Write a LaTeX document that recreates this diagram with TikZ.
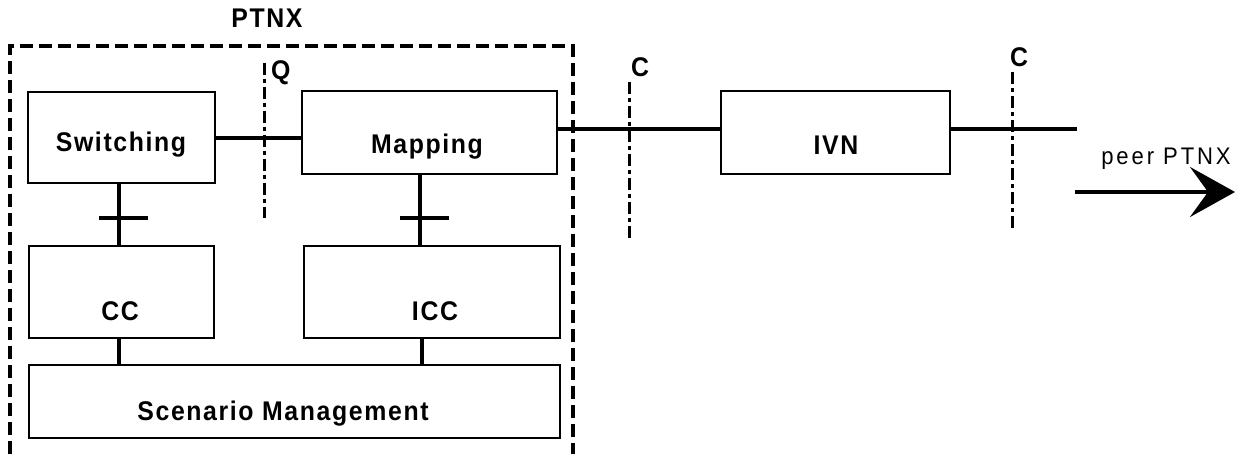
\documentclass[tikz,border=0pt]{standalone}
\usepackage{fontspec}
\setmainfont{Liberation Sans}
\newfontfamily\boxfont[LetterSpace=6,FakeStretch=0.92]{Liberation Sans}
\newfontfamily\peerfont[LetterSpace=12,FakeStretch=0.92]{Liberation Sans}
\usetikzlibrary{arrows.meta}
\begin{document}
\begin{tikzpicture}[x=1pt,y=-1pt,
  blk/.style={draw,line width=2.2pt,rectangle,inner sep=0pt},
  lbl/.style={anchor=base,inner sep=0pt,font=\boxfont\bfseries\fontsize{27}{30}\selectfont},
  conn/.style={line width=3.5pt},
  refpt/.style={line width=3pt,dash pattern=on 12pt off 4pt on 4pt off 4pt},
  frame/.style={line width=3.3pt,dash pattern=on 13pt off 6pt}]
\useasboundingbox (0,0) rectangle (1237,454);
% blocks
\node[blk,minimum width=187pt,minimum height=91pt] (sw) at (121.5,137.5) {};
\node[blk,minimum width=255pt,minimum height=83pt] (map) at (429.5,132.5) {};
\node[blk,minimum width=229pt,minimum height=83pt] (ivn) at (835.5,132.5) {};
\node[blk,minimum width=185pt,minimum height=92pt] (cc) at (121.5,292) {};
\node[blk,minimum width=256pt,minimum height=92pt] (icc) at (432,292) {};
\node[blk,minimum width=531pt,minimum height=73pt] (scen) at (294.5,401.5) {};
% labels
\node[lbl] (swl) at (121,152) {Switching};
\node[lbl] (mapl) at (427,154) {Mapping};
\node[lbl] (ivnl) at (836,155) {IVN};
\node[lbl] (ccl) at (120,320) {CC};
\node[lbl] (iccl) at (435,320) {ICC};
\node[lbl] (scenl) at (283,420) {Scenario Management};
\node[lbl] (ptnxl) at (267,28) {PTNX};
\node[lbl,anchor=base west] (ql) at (271,80) {Q};
\node[lbl,anchor=base west] (c1l) at (631,77) {C};
\node[lbl,anchor=base west] (c2l) at (1010,67) {C};
\node[anchor=base,inner sep=0pt,font=\peerfont\fontsize{24}{27}\selectfont] (peerl) at (1166,165) {peer PTNX};
% frame
\coordinate (f1) at (10,454);
\coordinate (f2) at (10,46);
\coordinate (f3) at (573,46);
\coordinate (f4) at (573,454);
\draw[frame] (f1) -- (f2) -- (f3) -- (f4);
% reference points
\coordinate (q1) at (264,63);  \coordinate (q2) at (264,218);
\coordinate (ca1) at (629,82); \coordinate (ca2) at (629,238);
\coordinate (cb1) at (1012,72); \coordinate (cb2) at (1012,228);
\draw[refpt] (q1) -- (q2);
\draw[refpt] (ca1) -- (ca2);
\draw[refpt] (cb1) -- (cb2);
% connectors
\coordinate (ya) at (0,138);
\coordinate (yb) at (0,129);
\coordinate (xs) at (119,0);
\coordinate (xm) at (420,0);
\coordinate (xi) at (422,0);
\coordinate (lineend) at (1077,129);
\draw[conn] (sw.east |- ya) -- (map.west |- ya);
\draw[conn] (map.east |- yb) -- (ivn.west |- yb);
\draw[conn] (ivn.east |- yb) -- (lineend);
\draw[conn] (xs |- sw.south) -- (xs |- cc.north);
\draw[conn] (xm |- map.south) -- (xm |- icc.north);
\draw[conn] (xs |- cc.south) -- (xs |- scen.north);
\draw[conn] (xi |- icc.south) -- (xi |- scen.north);
\coordinate (t1a) at (99,218); \coordinate (t1b) at (148,218);
\coordinate (t2a) at (400,218); \coordinate (t2b) at (449,218);
\draw[conn] (t1a) -- (t1b);
\draw[conn] (t2a) -- (t2b);
% arrow
\coordinate (a1) at (1075,192);
\coordinate (a2) at (1235,192);
\draw[conn,-{Stealth[length=45pt,width=50pt,inset=18pt]}] (a1) -- (a2);
\end{tikzpicture}
\end{document}
